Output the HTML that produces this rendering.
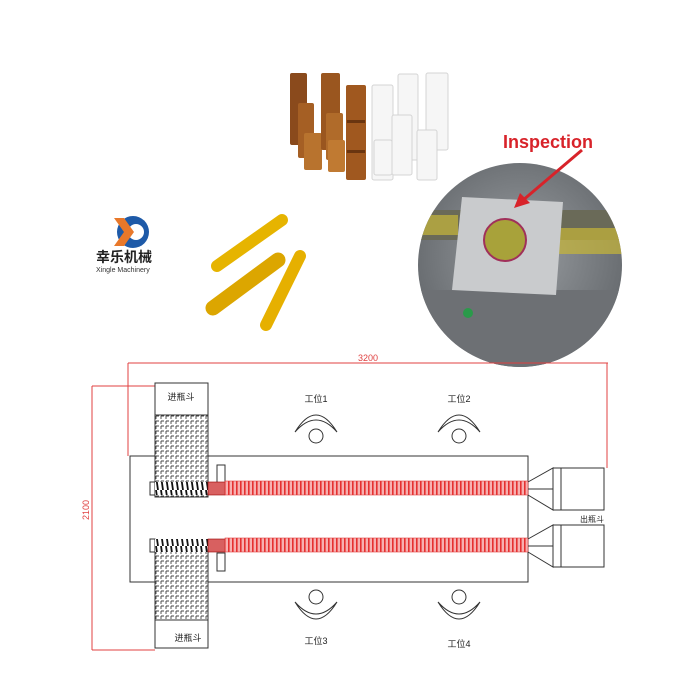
<!DOCTYPE html>
<html><head><meta charset="utf-8"><style>
html,body{margin:0;padding:0;background:#fff;}
svg{display:block;}
text{font-family:"Liberation Sans","Noto Sans CJK SC",sans-serif;}
</style></head><body>
<svg width="700" height="700" viewBox="0 0 700 700" xmlns="http://www.w3.org/2000/svg">
<defs>
<pattern id="hatch" width="5" height="5" patternUnits="userSpaceOnUse">
<rect width="5" height="5" fill="#fff"/><path d="M1 1h3M1 1v3" stroke="#444" stroke-width="0.9"/>
</pattern>
<pattern id="red" width="4" height="14" patternUnits="userSpaceOnUse">
<rect width="4" height="14" fill="#f7b0b0"/><rect width="1.6" height="14" fill="#e53030"/>
</pattern>
<pattern id="coil" width="5" height="14" patternUnits="userSpaceOnUse">
<rect width="5" height="14" fill="#fff"/><path d="M1 0 L3 14" stroke="#111" stroke-width="1.8"/>
</pattern>
<radialGradient id="ph" cx="50%" cy="45%" r="60%">
<stop offset="0" stop-color="#9a9ea2"/><stop offset="0.85" stop-color="#6a6e72"/><stop offset="1" stop-color="#4a4d50"/>
</radialGradient>
<clipPath id="cc"><circle cx="520" cy="265" r="102"/></clipPath>
</defs>

<!-- bottles amber -->
<g>
<rect x="290" y="73" width="17" height="72" rx="2" fill="#8a4a1c"/>
<rect x="298" y="103" width="16" height="55" rx="2" fill="#a55f24"/>
<rect x="304" y="133" width="18" height="37" rx="2" fill="#b8732e"/>
<rect x="321" y="73" width="19" height="77" rx="2" fill="#9a561f"/>
<rect x="326" y="113" width="17" height="47" rx="2" fill="#b06b2a"/>
<rect x="328" y="140" width="17" height="32" rx="2" fill="#c07a32"/>
<rect x="346" y="85" width="20" height="95" rx="2" fill="#a0581f"/>
<rect x="347" y="120" width="18" height="3" fill="#6a3510"/>
<rect x="347" y="150" width="18" height="3" fill="#6a3510"/>
</g>
<!-- bottles clear -->
<g fill="#f6f6f6" stroke="#d4d4d4" stroke-width="1">
<rect x="372" y="85" width="21" height="95" rx="2"/>
<rect x="398" y="74" width="20" height="86" rx="2"/>
<rect x="426" y="73" width="22" height="77" rx="2"/>
<rect x="392" y="115" width="20" height="60" rx="2"/>
<rect x="417" y="130" width="20" height="50" rx="2"/>
<rect x="374" y="140" width="18" height="35" rx="2"/>
</g>

<!-- logo -->
<circle cx="133" cy="232" r="16" fill="#1e5aa8"/>
<circle cx="136" cy="232" r="8" fill="#fff"/>
<path d="M114 218 L124 218 L134 232 L124 246 L114 246 L124 232Z" fill="#e8782a"/>
<text x="96" y="262" font-size="14" font-weight="bold" fill="#222">幸乐机械</text>
<text x="96" y="272" font-size="7" fill="#333">Xingle Machinery</text>

<!-- ampoules -->
<g stroke-linecap="round">
<line x1="217" y1="266" x2="282" y2="220" stroke="#e6b400" stroke-width="12"/>
<line x1="213" y1="308" x2="278" y2="260" stroke="#dca600" stroke-width="15"/>
<line x1="266" y1="325" x2="300" y2="256" stroke="#e6b000" stroke-width="12"/>
</g>

<!-- photo circle -->
<circle cx="520" cy="265" r="102" fill="url(#ph)"/>
<g clip-path="url(#cc)">
<rect x="418" y="210" width="210" height="30" fill="#6a6a58"/>
<rect x="420" y="215" width="38" height="20" fill="#c8b83a" opacity="0.7"/>
<rect x="555" y="228" width="70" height="26" fill="#c7b637" opacity="0.7"/>
<rect x="418" y="290" width="210" height="80" fill="#6d7074"/>
<polygon points="462,197 563,202 556,295 452,290" fill="#c9cbcd"/>
</g>
<circle cx="505" cy="240" r="21" fill="#a8a23a" stroke="#a0305a" stroke-width="2"/>
<circle cx="468" cy="313" r="5" fill="#2a9a4a"/>
<text x="548" y="148" font-size="18" font-weight="bold" fill="#d8232a" text-anchor="middle">Inspection</text>
<line x1="582" y1="150" x2="522" y2="201" stroke="#d8232a" stroke-width="3"/>
<polygon points="514,208 520,193 530,203" fill="#d8232a"/>

<!-- dimension lines -->
<g stroke="#e04040" stroke-width="1" fill="none">
<line x1="128" y1="363" x2="608" y2="363"/>
<line x1="128" y1="363" x2="128" y2="456"/>
<line x1="607" y1="363" x2="607" y2="468"/>
<line x1="92" y1="386" x2="155" y2="386"/>
<line x1="92" y1="386" x2="92" y2="650"/>
<line x1="92" y1="650" x2="155" y2="650"/>
</g>
<text x="368" y="361" font-size="9" fill="#e04040" text-anchor="middle">3200</text>
<text x="0" y="0" font-size="9" fill="#e04040" transform="translate(89 520) rotate(-90)">2100</text>

<!-- main frame -->
<rect x="130" y="456" width="398" height="126" fill="#fff" stroke="#333"/>
<!-- hoppers -->
<rect x="155" y="383" width="53" height="32" fill="#fff" stroke="#333"/>
<rect x="155" y="415" width="53" height="82" fill="url(#hatch)" stroke="#333"/>
<rect x="155" y="540" width="53" height="80" fill="url(#hatch)" stroke="#333"/>
<rect x="155" y="620" width="53" height="28" fill="#fff" stroke="#333"/>
<text x="181" y="400" font-size="9" fill="#222" text-anchor="middle">进瓶斗</text>
<text x="188" y="641" font-size="9" fill="#222" text-anchor="middle">进瓶斗</text>

<rect x="217" y="465" width="8" height="18" fill="#fff" stroke="#333"/>
<rect x="217" y="553" width="8" height="18" fill="#fff" stroke="#333"/>

<!-- screws and red bars -->
<rect x="150" y="482" width="5" height="13" fill="#fff" stroke="#333"/>
<rect x="155" y="482" width="55" height="13" fill="url(#coil)"/>
<rect x="208" y="482" width="17" height="13" fill="#d86060" stroke="#900" stroke-width="0.6"/>
<rect x="225" y="481" width="303" height="14" fill="url(#red)" stroke="#e04040" stroke-width="0.6"/>
<rect x="150" y="539" width="5" height="13" fill="#fff" stroke="#333"/>
<rect x="155" y="539" width="55" height="13" fill="url(#coil)"/>
<rect x="208" y="539" width="17" height="13" fill="#d86060" stroke="#900" stroke-width="0.6"/>
<rect x="225" y="538" width="303" height="14" fill="url(#red)" stroke="#e04040" stroke-width="0.6"/>

<!-- outlets -->
<g stroke="#333" stroke-width="1" fill="#fff">
<polyline points="528,482 553,468 553,510 528,495" fill="none"/>
<line x1="528" y1="489" x2="553" y2="489"/>
<rect x="553" y="468" width="8" height="42"/>
<rect x="561" y="468" width="43" height="42"/>
<polyline points="528,539 553,525 553,567 528,552" fill="none"/>
<line x1="528" y1="546" x2="553" y2="546"/>
<rect x="553" y="525" width="8" height="42"/>
<rect x="561" y="525" width="43" height="42"/>
</g>
<text x="592" y="522" font-size="8" fill="#222" text-anchor="middle">出瓶斗</text>

<!-- stations -->
<g stroke="#333" stroke-width="1" fill="none">
<path d="M295 432 Q316 398 337 432 Q316 408 295 432Z" fill="#fff"/>
<circle cx="316" cy="436" r="7"/>
<path d="M438 432 Q459 398 480 432 Q459 408 438 432Z" fill="#fff"/>
<circle cx="459" cy="436" r="7"/>
<path d="M295 602 Q316 636 337 602 Q316 626 295 602Z" fill="#fff"/>
<circle cx="316" cy="597" r="7"/>
<path d="M438 602 Q459 636 480 602 Q459 626 438 602Z" fill="#fff"/>
<circle cx="459" cy="597" r="7"/>
</g>
<text x="316" y="402" font-size="9" fill="#222" text-anchor="middle">工位1</text>
<text x="459" y="402" font-size="9" fill="#222" text-anchor="middle">工位2</text>
<text x="316" y="644" font-size="9" fill="#222" text-anchor="middle">工位3</text>
<text x="459" y="647" font-size="9" fill="#222" text-anchor="middle">工位4</text>
</svg>
</body></html>
